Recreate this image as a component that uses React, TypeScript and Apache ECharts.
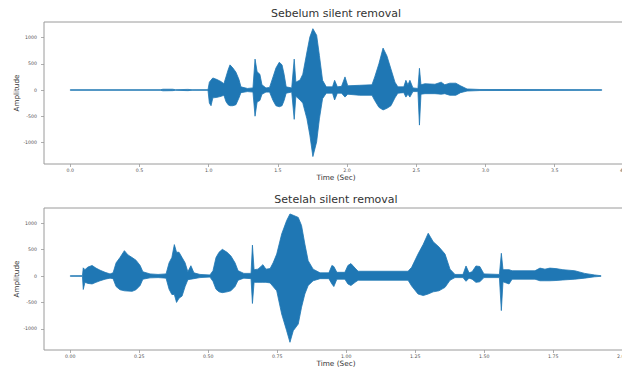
import React, { useEffect, useRef } from "react";
import * as echarts from "echarts";

// ---- Data (envelope of the waveform: time, upper, lower) ----
const topTime = [
  0.0, 0.65, 0.67, 0.74, 0.76, 0.85, 0.88, 0.995, 1.005, 1.017, 1.03, 1.06, 1.09, 1.11,
  1.125, 1.14, 1.154, 1.175, 1.197, 1.219, 1.233, 1.28, 1.32, 1.335, 1.35, 1.37, 1.385,
  1.414, 1.44, 1.465, 1.486, 1.51, 1.53, 1.545, 1.56, 1.6, 1.618, 1.63, 1.66, 1.68, 1.71,
  1.731, 1.753, 1.78, 1.8, 1.823, 1.85, 1.895, 1.91, 1.93, 1.96, 1.985, 2.005, 2.09, 2.18,
  2.2, 2.23, 2.26, 2.288, 2.317, 2.346, 2.367, 2.41, 2.425, 2.44, 2.454, 2.476, 2.512,
  2.523, 2.534, 2.563, 2.635, 2.68, 2.706, 2.742, 2.786, 2.82, 2.867, 2.96, 3.84,
];
const topUpper = [
  5, 5, 15, 15, 5, 12, 5, 6, 150, 190, 230, 200, 160, 120,
  250, 380, 480, 420, 340, 200, 60, 30, 40, 590, 350, 300, 100,
  40, 50, 250, 420, 530, 480, 300, 60, 40, 590, 150, 190, 300, 725,
  1010, 1170, 1045, 660, 185, 60, 60, 185, 60, 70, 250, 80, 90, 100,
  250, 500, 800, 650, 400, 150, 60, 60, 185, 100, 185, 40, 30,
  415, 100, 120, 110, 150, 100, 130, 130, 80, 20, 10, 6,
];
const topLower = [
  -5, -5, -15, -12, -5, -12, -5, -6, -250, -300, -150, -140, -120, -100,
  -220, -280, -300, -300, -280, -150, -50, -30, -40, -500, -230, -200, -80,
  -40, -40, -200, -300, -320, -300, -200, -60, -40, -560, -120, -190, -250, -550,
  -860, -1270, -990, -550, -165, -60, -60, -190, -60, -60, -135, -80, -100, -100,
  -200, -330, -380, -350, -300, -150, -60, -50, -135, -80, -135, -30, -30,
  -670, -80, -70, -70, -80, -70, -100, -100, -50, -20, -10, -6,
];

const bottomTime = [
  0.0, 0.044, 0.047, 0.053, 0.064, 0.079, 0.093, 0.108, 0.126, 0.144, 0.155, 0.166, 0.18,
  0.196, 0.209, 0.224, 0.238, 0.253, 0.263, 0.289, 0.318, 0.347, 0.358, 0.368, 0.377,
  0.385, 0.394, 0.405, 0.416, 0.426, 0.437, 0.448, 0.47, 0.506, 0.517, 0.528, 0.539,
  0.551, 0.568, 0.582, 0.597, 0.608, 0.629, 0.655, 0.66, 0.666, 0.68, 0.698, 0.709,
  0.724, 0.735, 0.748, 0.766, 0.784, 0.796, 0.808, 0.826, 0.838, 0.85, 0.862, 0.88,
  0.905, 0.937, 0.948, 0.955, 0.966, 0.995, 1.006, 1.017, 1.032, 1.043, 1.224, 1.237,
  1.26, 1.279, 1.297, 1.315, 1.336, 1.358, 1.376, 1.394, 1.423, 1.434, 1.445, 1.456,
  1.47, 1.484, 1.499, 1.555, 1.562, 1.568, 1.59, 1.601, 1.684, 1.702, 1.72, 1.738, 1.76,
  1.785, 1.828, 1.864, 1.9, 1.923,
];
const bottomUpper = [
  5, 6, 155, 120, 170, 200, 150, 110, 70, 40, 60, 250, 350,
  480, 400, 350, 300, 200, 80, 40, 30, 40, 250, 350, 595,
  450, 450, 350, 250, 80, 195, 60, 30, 20, 100, 350, 450,
  505, 450, 380, 250, 100, 50, 50, 585, 120, 130, 215, 130,
  140, 250, 415, 795, 1050, 1175, 1150, 1110, 955, 605, 290, 130,
  60, 60, 200, 180, 70, 70, 200, 235, 150, 90, 90, 165,
  415, 600, 810, 650, 550, 415, 130, 30, 30, 190, 60, 80,
  190, 180, 40, 30, 430, 120, 120, 100, 100, 150, 130, 150, 140,
  120, 100, 50, 20, 6,
];
const bottomLower = [
  -5, -6, -255, -120, -140, -150, -120, -90, -60, -40, -50, -200, -260,
  -280, -285, -290, -260, -180, -60, -35, -30, -40, -250, -350, -350,
  -500, -420, -380, -200, -70, -60, -50, -30, -20, -100, -250, -300,
  -315, -300, -280, -200, -80, -40, -50, -520, -120, -120, -120, -120,
  -130, -200, -280, -720, -1035, -1255, -1035, -910, -590, -340, -180, -90,
  -50, -50, -150, -200, -60, -60, -150, -180, -120, -80, -80, -190,
  -340, -370, -340, -300, -280, -215, -80, -30, -30, -100, -40, -60,
  -120, -110, -30, -30, -655, -110, -150, -60, -60, -90, -90, -90, -85,
  -75, -60, -40, -15, -6,
];

const ampTicks = [-1000, -500, 0, 500, 1000];
const topTimeTicks = [0, 0.5, 1, 1.5, 2, 2.5, 3, 3.5, 4];
const bottomTimeTicks = [0, 0.25, 0.5, 0.75, 1, 1.25, 1.5, 1.75, 2];

const titles = ["Sebelum silent removal", "Setelah silent removal"];
const xName = "Time (Sec)";
const yName = "Amplitude";

const FONT = "DejaVu Sans";
const BLUE = "#1f77b4";
const SPINE = "#9a9a9a";

function envelopeSeries(T: number[], U: number[], L: number[], idx: number) {
  return {
    type: "custom",
    xAxisIndex: idx,
    yAxisIndex: idx,
    silent: true,
    clip: false,
    data: T.map((t, i) => [t, U[i], L[i]]),
    encode: { x: 0, y: [1, 2] },
    renderItem: (params: any, api: any) => {
      if (params.dataIndex !== 0) return null;
      const pts: number[][] = [];
      for (let i = 0; i < T.length; i++) pts.push(api.coord([T[i], U[i]]));
      for (let i = T.length - 1; i >= 0; i--) pts.push(api.coord([T[i], L[i]]));
      return {
        type: "polygon",
        shape: { points: pts },
        style: { fill: BLUE, stroke: BLUE, lineWidth: 0.8, lineJoin: "miter" },
      };
    },
  };
}

function xAxisFor(idx: number, min: number, max: number, ticks: number[], digits: number) {
  return {
    type: "value",
    gridIndex: idx,
    min,
    max,
    name: xName,
    nameLocation: "middle",
    nameGap: 10,
    nameMoveOverlap: false,
    nameTextStyle: { fontFamily: FONT, fontSize: 7.3, color: "#333" },
    axisLine: { show: false, onZero: false },
    splitLine: { show: false },
    axisTick: {
      show: true,
      length: 3,
      customValues: ticks,
      lineStyle: { color: SPINE, width: 0.8 },
    },
    axisLabel: {
      customValues: ticks,
      formatter: (v: number) => v.toFixed(digits),
      fontFamily: FONT,
      fontSize: 4.7,
      color: "#555",
      margin: 4,
    },
  };
}

function yAxisFor(idx: number, min: number, max: number) {
  return {
    type: "value",
    gridIndex: idx,
    min,
    max,
    name: yName,
    nameLocation: "middle",
    nameGap: 24,
    nameMoveOverlap: false,
    nameTextStyle: { fontFamily: FONT, fontSize: 7.2, color: "#333" },
    axisLine: { show: false, onZero: false },
    splitLine: { show: false },
    axisTick: {
      show: true,
      length: 3,
      customValues: ampTicks,
      lineStyle: { color: SPINE, width: 0.8 },
    },
    axisLabel: {
      customValues: ampTicks,
      formatter: (v: number) => String(v),
      fontFamily: FONT,
      fontSize: 4.7,
      color: "#555",
      margin: 7,
    },
  };
}

export default function App() {
  const ref = useRef<HTMLDivElement>(null);
  useEffect(() => {
    if (!ref.current) return;
    const chart = echarts.init(ref.current, null, { renderer: "svg" });
    chart.setOption({
      animation: false,
      backgroundColor: "#ffffff",
      title: [
        {
          text: titles[0],
          left: 336,
          top: 8,
          padding: 0,
          textAlign: "center",
          textStyle: { fontFamily: FONT, fontSize: 11, fontWeight: "normal", color: "#333" },
        },
        {
          text: titles[1],
          left: 336,
          top: 194,
          padding: 0,
          textAlign: "center",
          textStyle: { fontFamily: FONT, fontSize: 11, fontWeight: "normal", color: "#333" },
        },
      ],
      grid: [
        {
          left: 44, top: 22, width: 584, height: 142,
          show: true, borderColor: SPINE, borderWidth: 1, backgroundColor: "transparent",
          outerBoundsMode: "none", containLabel: false,
        },
        {
          left: 44, top: 208, width: 584, height: 142,
          show: true, borderColor: SPINE, borderWidth: 1, backgroundColor: "transparent",
          outerBoundsMode: "none", containLabel: false,
        },
      ],
      xAxis: [
        xAxisFor(0, -0.19, 4.03, topTimeTicks, 1),
        xAxisFor(1, -0.0953, 2.021, bottomTimeTicks, 2),
      ],
      yAxis: [yAxisFor(0, -1412, 1298), yAxisFor(1, -1401, 1288)],
      series: [
        envelopeSeries(topTime, topUpper, topLower, 0),
        envelopeSeries(bottomTime, bottomUpper, bottomLower, 1),
      ],
    });
    return () => chart.dispose();
  }, []);
  return <div ref={ref} style={{ width: 622, height: 369, position: "absolute", left: 0, top: 0 }} />;
}
